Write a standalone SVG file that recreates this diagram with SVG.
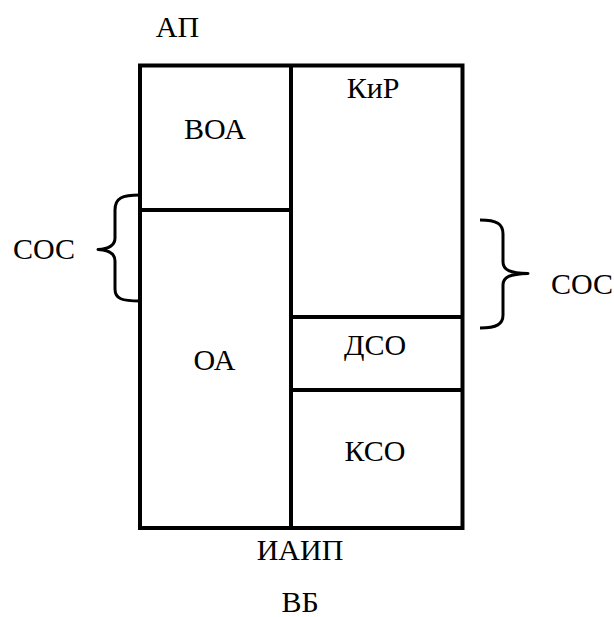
<svg xmlns="http://www.w3.org/2000/svg" width="614" height="617" viewBox="0 0 614 617">
<style>
.ln{stroke:#000;stroke-width:4;fill:none}
.br{stroke:#000;stroke-width:3;fill:none;stroke-linejoin:round}
</style>
<rect width="614" height="617" fill="#fff"/>
<g id="frame">
<rect class="ln" x="140" y="65.5" width="322.5" height="462.5"/>
</g>
<g id="connectors">
<line class="ln" x1="291" y1="65.5" x2="291" y2="528"/>
<line class="ln" x1="140" y1="210" x2="291" y2="210"/>
<line class="ln" x1="291" y1="317" x2="462.5" y2="317"/>
<line class="ln" x1="291" y1="390" x2="462.5" y2="390"/>
</g>
<g id="node-AP"><text x="177.5" y="37" text-anchor="middle" font-family="Liberation Serif" font-size="30">АП</text></g>
<g id="node-VOA"><text x="215" y="139" text-anchor="middle" font-family="Liberation Serif" font-size="30">ВОА</text></g>
<g id="node-KiR"><text x="373" y="98" text-anchor="middle" font-family="Liberation Serif" font-size="30">КиР</text></g>
<g id="node-OA"><text x="214.5" y="370" text-anchor="middle" font-family="Liberation Serif" font-size="30">ОА</text></g>
<g id="node-DSO"><text x="375" y="355" text-anchor="middle" font-family="Liberation Serif" font-size="30">ДСО</text></g>
<g id="node-KSO"><text x="375" y="460.5" text-anchor="middle" font-family="Liberation Serif" font-size="30">КСО</text></g>
<g id="node-IAIP"><text x="300" y="560" text-anchor="middle" font-family="Liberation Serif" font-size="30">ИАИП</text></g>
<g id="node-VB"><text x="300" y="612" text-anchor="middle" font-family="Liberation Serif" font-size="30">ВБ</text></g>
<g id="node-SOS-left">
<path class="br" d="M140,195 C122,195 115,198 115,210 L115,238 C115,246 108,249 98,249.5 C108,250 115,253 115,261 L115,289 C115,299 122,301 140,301"/>
<text x="13" y="259" font-family="Liberation Serif" font-size="30">СОС</text>
</g>
<g id="node-SOS-right">
<path class="br" d="M480,220 C497,220 503,224 503,234 L503,262 C503,270 510,273 528,273.5 C510,274 503,277 503,285 L503,315 C503,324 497,328 480,328"/>
<text x="551" y="294" font-family="Liberation Serif" font-size="30">СОС</text>
</g>
</svg>
